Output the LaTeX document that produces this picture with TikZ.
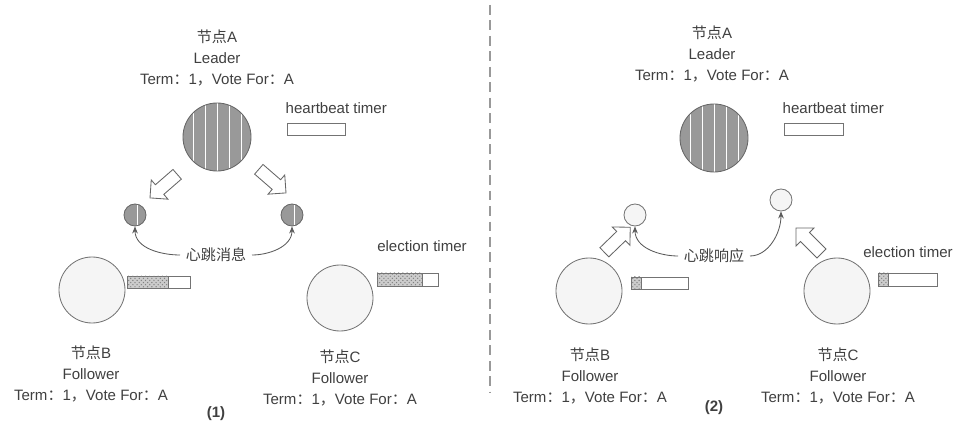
\documentclass[tikz,border=0pt]{standalone}
\usepackage{fontspec}
\setmainfont{Liberation Sans}
\newfontfamily\cjk{Noto Sans CJK SC}
\usetikzlibrary{arrows.meta,shapes.arrows,patterns}

\newcommand{\zh}[1]{{\cjk #1}}
\newcommand{\termline}{Term\zh{：}1\zh{，}Vote For\zh{：}A}

\tikzset{
  txt/.style={text=black!75, font=\fontsize{10.7}{14.9}\selectfont, inner sep=1pt},
  lbl/.style={txt, align=center},
  leader/.style={circle, draw=black!60, fill=black!40, line width=0.6pt,
    minimum size=1.7cm, inner sep=0pt,
    path picture={\foreach \dx in {-24,-12,0,12,24}
      \draw[white, line width=0.7pt] (path picture bounding box.center) ++(\dx,-40) -- ++(0,80);}},
  beat/.style={circle, draw=black!60, fill=black!40, line width=0.6pt,
    minimum size=0.55cm, inner sep=0pt,
    path picture={\draw[white, line width=0.7pt] (path picture bounding box.center) ++(2,-15) -- ++(0,30);}},
  reply/.style={circle, draw=black!55, fill=black!4, line width=0.6pt, minimum size=0.55cm, inner sep=0pt},
  follower/.style={circle, draw=black!55, fill=black!4, line width=0.6pt, minimum size=1.65cm, inner sep=0pt},
  blockarrow/.style={single arrow, draw=black!60, fill=white, line width=0.6pt,
    minimum height=0.9cm, inner sep=4.25pt, single arrow head extend=4.5pt},
  timer/.style={draw=black!55, fill=white, line width=0.6pt},
  elapsed/.style={draw=black!55, fill=black!20, line width=0.6pt,
    postaction={pattern=crosshatch dots, pattern color=black!50}},
  conn/.style={draw=black!65, line width=0.6pt, -{Stealth[length=5pt,width=4pt]}, shorten <=3pt},
  sep/.style={draw=black!40, line width=1pt, dash pattern=on 7pt off 4pt}
}

\begin{document}
\begin{tikzpicture}[x=0.025cm, y=-0.025cm]
  \useasboundingbox (0,0) rectangle (975,426);

  % (1) leader sends heartbeats
  \node[lbl] (labA1) at (217,58) {\zh{节点}A\\Leader\\\termline};
  \node[leader] (A1) at (217,137) {};
  \node[txt, anchor=west] (hb1) at (284,108) {heartbeat timer};
  \draw[timer] (287,123) rectangle (345,135);
  \node[blockarrow, rotate=221] (out1) at (166,184) {};
  \node[blockarrow, rotate=-41] (out2) at (270,179) {};
  \node[beat] (mB1) at (135,215) {};
  \node[beat] (mC1) at (292,215) {};
  \node[txt] (msg1) at (216,255) {\zh{心跳消息}};
  \draw[conn] (msg1.west) to[out=180, in=-90] (mB1.south);
  \draw[conn] (msg1.east) to[out=0, in=-90] (mC1.south);

  \node[follower] (B1) at (92,290) {};
  \draw[timer] (127,276) rectangle (190,288);
  \draw[elapsed] (127,276) rectangle (168,288);
  \node[lbl] (labB1) at (91,374) {\zh{节点}B\\Follower\\\termline};

  \node[follower] (C1) at (340,298) {};
  \node[txt] (et1) at (422,246) {election timer};
  \draw[timer] (377,273) rectangle (438,286);
  \draw[elapsed] (377,273) rectangle (422,286);
  \node[lbl] (labC1) at (340,378) {\zh{节点}C\\Follower\\\termline};
  \node[txt, font=\fontsize{10.7}{12}\selectfont\bfseries] (cap1) at (216,414) {(1)};

  \draw[sep] (490,5) -- (490,392);

  % (2) followers answer
  \node[lbl] (labA2) at (712,54) {\zh{节点}A\\Leader\\\termline};
  \node[leader] (A2) at (714,138) {};
  \node[txt, anchor=west] (hb2) at (781,108) {heartbeat timer};
  \draw[timer] (784,123) rectangle (843,135);
  \node[reply] (rB2) at (635,215) {};
  \node[reply] (rC2) at (781,200) {};
  \node[txt] (ack2) at (714,256) {\zh{心跳响应}};
  \draw[conn] (ack2.west) to[out=180, in=-90] (rB2.south);
  \draw[conn] (ack2.east) to[out=0, in=-90] (rC2.south);
  \node[blockarrow, rotate=44] (in1) at (615,242) {};
  \node[blockarrow, rotate=135] (in2) at (811,243) {};

  \node[follower] (B2) at (589,291) {};
  \draw[timer] (631,277) rectangle (688,289);
  \draw[elapsed] (631,277) rectangle (641,289);
  \node[lbl] (labB2) at (590,376) {\zh{节点}B\\Follower\\\termline};

  \node[follower] (C2) at (837,291) {};
  \node[txt] (et2) at (908,252) {election timer};
  \draw[timer] (878,273) rectangle (937,286);
  \draw[elapsed] (878,273) rectangle (888,286);
  \node[lbl] (labC2) at (838,376) {\zh{节点}C\\Follower\\\termline};
  \node[txt, font=\fontsize{10.7}{12}\selectfont\bfseries] (cap2) at (714,408) {(2)};
\end{tikzpicture}
\end{document}
